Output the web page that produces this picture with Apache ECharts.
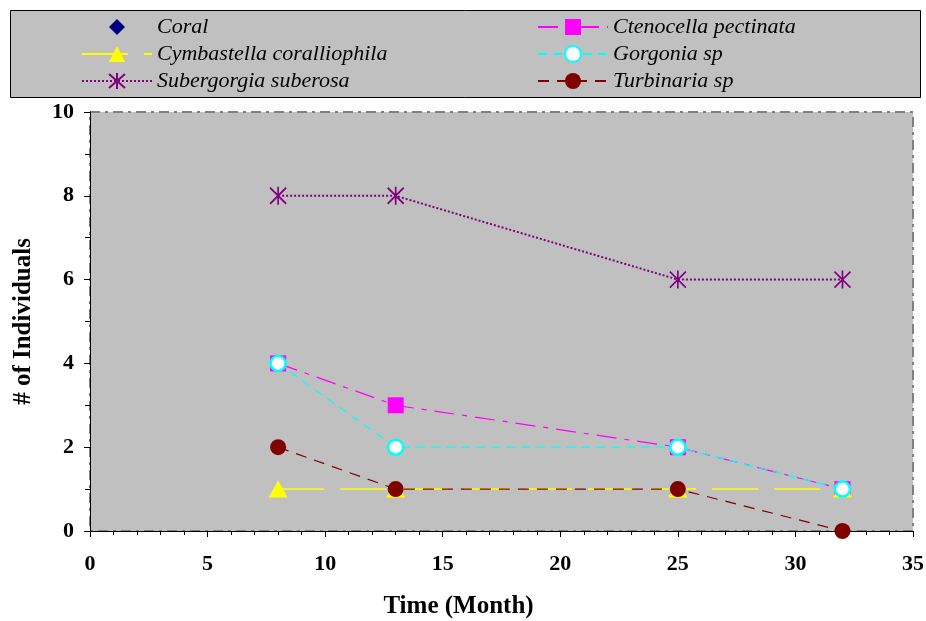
<!DOCTYPE html>
<html>
<head>
<meta charset="utf-8">
<title>Individuals over time</title>
<script src="https://cdn.jsdelivr.net/npm/echarts@6/dist/echarts.min.js"></script>
<style>
  html, body { margin: 0; padding: 0; background: #ffffff; }
  #chart { width: 926px; height: 621px; }
</style>
</head>
<body>
<div id="chart"></div>
<script>
// Sampling times (months)
const months = [8, 13, 25, 32];

// Counts of individuals per taxon
const coral = [];
const ctenocella = [4, 3, 2, 1];
const cymbastella = [1, 1, 1, 1];
const gorgonia = [4, 2, 2, 1];
const subergorgia = [8, 8, 6, 6];
const turbinaria = [2, 1, 1, 0];

const seriesNames = [
  'Coral',
  'Ctenocella pectinata',
  'Cymbastella coralliophila',
  'Gorgonia sp',
  'Subergorgia suberosa',
  'Turbinaria sp'
];

const pair = (vals) => vals.map((v, i) => [months[i], v]);

const serif = '"Liberation Serif", "DejaVu Serif", serif';
const starPath = 'path://M0,1 L16,17 M16,1 L0,17 M8,0 L8,18';

const chart = echarts.init(document.getElementById('chart'), null, { renderer: 'canvas' });

const legendText = { fontFamily: serif, fontStyle: 'italic', fontSize: 22, color: '#000', lineHeight: 20 };

chart.setOption({
  animation: false,
  backgroundColor: '#ffffff',
  graphic: [{
    type: 'rect',
    z: -1,
    shape: { x: 10.5, y: 10.5, width: 910, height: 87 },
    style: { fill: '#C0C0C0', stroke: '#000', lineWidth: 1 }
  }],
  legend: [
    {
      left: 81, top: 16, orient: 'vertical', padding: 0,
      itemWidth: 70, itemHeight: 20, itemGap: 5,
      selectedMode: false, textStyle: legendText,
      data: [seriesNames[0], seriesNames[2], seriesNames[4]]
    },
    {
      left: 537, top: 16, orient: 'vertical', padding: 0,
      itemWidth: 70, itemHeight: 20, itemGap: 5,
      selectedMode: false, textStyle: legendText,
      data: [seriesNames[1], seriesNames[3], seriesNames[5]]
    }
  ],
  grid: {
    left: 90, right: 13, top: 112, bottom: 90,
    outerBoundsMode: 'none',
    containLabel: false,
    show: true,
    backgroundColor: '#C0C0C0',
    borderColor: '#808080',
    borderWidth: 2,
    borderType: [10, 5, 3, 5]
  },
  xAxis: {
    type: 'value', min: 0, max: 35, interval: 5,
    name: 'Time (Month)', nameLocation: 'middle', nameGap: 63,
    nameTextStyle: { fontFamily: serif, fontWeight: 'bold', fontSize: 25, color: '#000', padding: [0, 86, 0, 0] },
    axisLine: { show: true, onZero: false, lineStyle: { color: '#000', width: 1 } },
    axisTick: { show: true, inside: false, length: 6, lineStyle: { color: '#000' } },
    minorTick: { show: true, splitNumber: 5, length: 4, lineStyle: { color: '#000' } },
    splitLine: { show: false },
    axisLabel: { fontFamily: serif, fontWeight: 'bold', fontSize: 22, color: '#000', margin: 22 }
  },
  yAxis: {
    type: 'value', min: 0, max: 10, interval: 2,
    name: '# of Individuals', nameLocation: 'middle', nameGap: 54, nameRotate: 90,
    nameTextStyle: { fontFamily: serif, fontWeight: 'bold', fontSize: 25, color: '#000' },
    axisLine: { show: true, onZero: false, lineStyle: { color: '#000', width: 1 } },
    axisTick: { show: true, inside: false, length: 6, lineStyle: { color: '#000' } },
    minorTick: { show: true, splitNumber: 2, length: 5, lineStyle: { color: '#000' } },
    splitLine: { show: false },
    axisLabel: { fontFamily: serif, fontWeight: 'bold', fontSize: 22, color: '#000', margin: 16 }
  },
  series: [
    {
      name: seriesNames[0], type: 'line', data: pair(coral),
      symbol: 'diamond', symbolSize: 14,
      itemStyle: { color: '#000080' },
      lineStyle: { color: 'rgba(0,0,0,0)', width: 0 }
    },
    {
      name: seriesNames[1], type: 'line', data: pair(ctenocella),
      symbol: 'rect', symbolSize: 16,
      itemStyle: { color: '#FF00FF' },
      lineStyle: { color: '#FF00FF', width: 1.2, type: [20, 8, 5, 8] }
    },
    {
      name: seriesNames[2], type: 'line', data: pair(cymbastella),
      symbol: 'triangle', symbolSize: [19, 17],
      itemStyle: { color: '#FFFF00' },
      lineStyle: { color: '#FFFF00', width: 1.5, type: [46, 16] }
    },
    {
      name: seriesNames[3], type: 'line', data: pair(gorgonia),
      symbol: 'circle', symbolSize: 15,
      itemStyle: { color: '#FFFFFF', borderColor: '#00FFFF', borderWidth: 2.5 },
      lineStyle: { color: '#00FFFF', width: 1.2, type: [9, 6] }
    },
    {
      name: seriesNames[4], type: 'line', data: pair(subergorgia),
      symbol: starPath, symbolSize: [16, 18],
      itemStyle: { color: 'rgba(0,0,0,0)', borderColor: '#800080', borderWidth: 1.8 },
      lineStyle: { color: '#800080', width: 2, type: [2, 2] }
    },
    {
      name: seriesNames[5], type: 'line', data: pair(turbinaria),
      symbol: 'circle', symbolSize: 16,
      itemStyle: { color: '#800000' },
      lineStyle: { color: '#800000', width: 1.2, type: [11, 8] }
    }
  ]
});
</script>
</body>
</html>
